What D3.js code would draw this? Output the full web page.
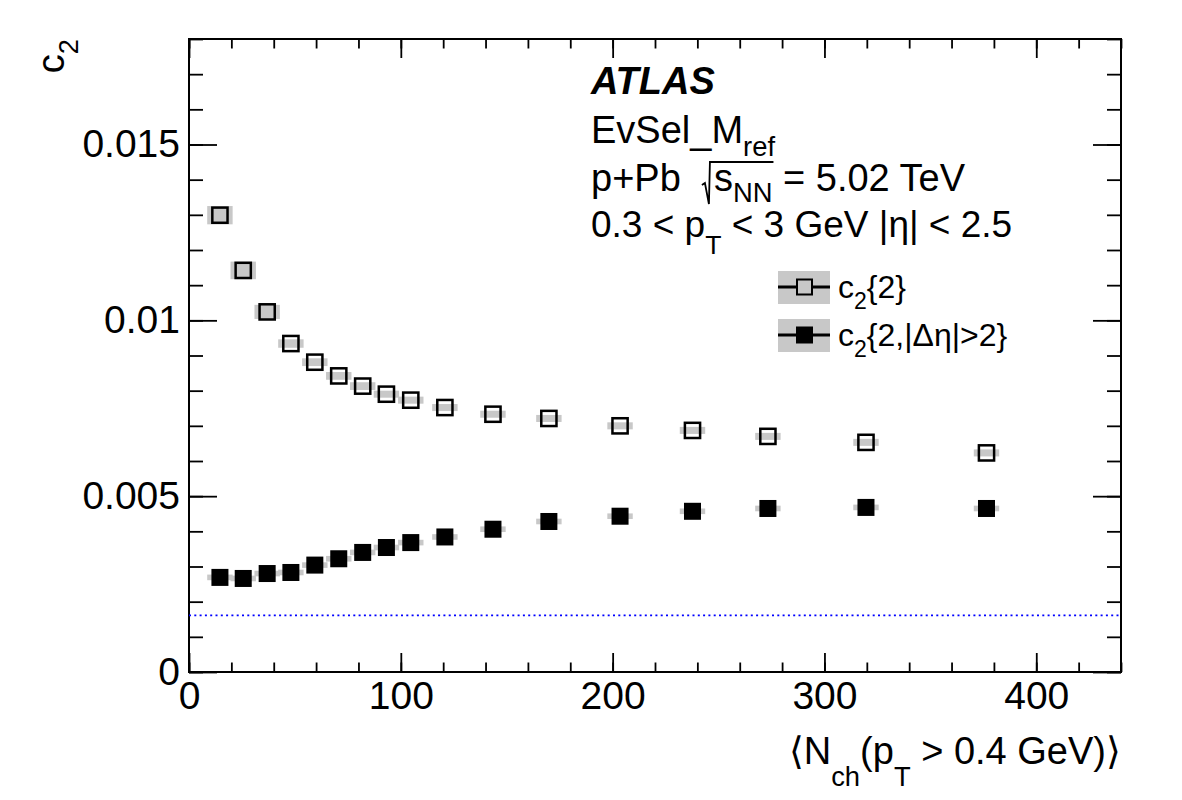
<!DOCTYPE html>
<html>
<head>
<meta charset="utf-8">
<script src="https://cdn.jsdelivr.net/npm/d3@7"></script>
<style>
  body { margin: 0; background: #fff; }
  text { font-family: "Liberation Sans", Arial, Helvetica, sans-serif; white-space: pre; }
</style>
</head>
<body>
<svg id="chart" width="1182" height="800"></svg>
<script>
// <Nch> bin centres
const nch = [14.6, 25.6, 36.9, 48.1, 59.4, 70.7, 82.0, 93.2, 104.7, 120.8, 143.5, 169.9, 203.5, 237.7, 273.3, 319.6, 376.5]
// c2{2}, open squares
const c2Two = [0.01299, 0.01142, 0.01024, 0.00934, 0.00881, 0.00842, 0.00813, 0.00790, 0.00773, 0.00752, 0.00733, 0.00721, 0.00700, 0.00687, 0.00670, 0.00653, 0.00623]
const c2TwoSys = [0.00026, 0.00025, 0.00020, 0.00012, 0.00011, 0.00011, 0.00011, 0.00010, 0.00010, 0.00010, 0.00010, 0.00010, 0.00010, 0.00010, 0.00010, 0.00010, 0.00010]
// c2{2,|deta|>2}, full squares
const c2Gap = [0.00269, 0.00266, 0.00280, 0.00283, 0.00304, 0.00322, 0.00340, 0.00354, 0.00368, 0.00384, 0.00406, 0.00428, 0.00443, 0.00457, 0.00465, 0.00468, 0.00465]
const c2GapSys = [0.00008, 0.00008, 0.00008, 0.00008, 0.00008, 0.00008, 0.00008, 0.00008, 0.00008, 0.00008, 0.00008, 0.00008, 0.00008, 0.00008, 0.00008, 0.00008, 0.00008]
const sysHalfWidth = 6
// reference level (blue dotted line)
const refLevel = 0.00161

const xMajor = [0, 100, 200, 300, 400]
const yMajor = [0, 0.005, 0.01, 0.015]

const svg = d3.select('#chart')
const padLeft = 189, padRight = 1121, padTop = 39, padBottom = 672
const grey = '#c8c8c8'

const x = d3.scaleLinear().domain([0, 440]).range([padLeft, padRight])
const y = d3.scaleLinear().domain([0, 0.018]).range([padBottom, padTop])

const xMinor = d3.range(0, 441, 20)
const yMinor = d3.range(0, 0.01801, 0.001)

// ticks on all four sides, pointing inwards
const tickStyle = g => {
  g.select('.domain').remove()
  g.selectAll('line').attr('stroke', '#000').attr('stroke-width', 1.8)
  g.selectAll('text').attr('font-size', 39).attr('fill', '#000')
    .attr('font-family', '"Liberation Sans", Arial, Helvetica, sans-serif')
}
const noLabel = () => ''
const yFormat = d => d === 0 ? '0' : String(+d.toFixed(3))

svg.append('g').attr('transform', `translate(0,${padBottom})`)
  .call(d3.axisBottom(x).tickValues(xMinor).tickSizeInner(-9.5).tickSizeOuter(0).tickFormat(noLabel)).call(tickStyle)
svg.append('g').attr('transform', `translate(0,${padBottom})`)
  .call(d3.axisBottom(x).tickValues(xMajor).tickSizeInner(-19).tickSizeOuter(0).tickPadding(9).tickFormat(d3.format('d'))).call(tickStyle)
svg.append('g').attr('transform', `translate(0,${padTop})`)
  .call(d3.axisTop(x).tickValues(xMinor).tickSizeInner(-9.5).tickSizeOuter(0).tickFormat(noLabel)).call(tickStyle)
svg.append('g').attr('transform', `translate(0,${padTop})`)
  .call(d3.axisTop(x).tickValues(xMajor).tickSizeInner(-19).tickSizeOuter(0).tickFormat(noLabel)).call(tickStyle)

svg.append('g').attr('transform', `translate(${padLeft},0)`)
  .call(d3.axisLeft(y).tickValues(yMinor).tickSizeInner(-14).tickSizeOuter(0).tickFormat(noLabel)).call(tickStyle)
svg.append('g').attr('transform', `translate(${padLeft},0)`)
  .call(d3.axisLeft(y).tickValues(yMajor).tickSizeInner(-28).tickSizeOuter(0).tickPadding(9).tickFormat(yFormat)).call(tickStyle)
svg.append('g').attr('transform', `translate(${padRight},0)`)
  .call(d3.axisRight(y).tickValues(yMinor).tickSizeInner(-14).tickSizeOuter(0).tickFormat(noLabel)).call(tickStyle)
svg.append('g').attr('transform', `translate(${padRight},0)`)
  .call(d3.axisRight(y).tickValues(yMajor).tickSizeInner(-28).tickSizeOuter(0).tickFormat(noLabel)).call(tickStyle)

// frame
svg.append('rect')
  .attr('x', padLeft).attr('y', padTop).attr('width', padRight - padLeft).attr('height', padBottom - padTop)
  .attr('fill', 'none').attr('stroke', '#000').attr('stroke-width', 2)

// reference level
svg.append('line')
  .attr('x1', padLeft).attr('x2', padRight).attr('y1', y(refLevel)).attr('y2', y(refLevel))
  .attr('stroke', '#0000ff').attr('stroke-width', 1.6).attr('stroke-dasharray', '2,3.3')

// systematic boxes
const drawSys = (vals, sys) => {
  svg.append('g').selectAll('rect').data(nch).join('rect')
    .attr('x', d => x(d - sysHalfWidth))
    .attr('width', d => x(d + sysHalfWidth) - x(d - sysHalfWidth))
    .attr('y', (d, i) => y(vals[i] + sys[i]))
    .attr('height', (d, i) => y(vals[i] - sys[i]) - y(vals[i] + sys[i]))
    .attr('fill', grey)
}
drawSys(c2Two, c2TwoSys)
drawSys(c2Gap, c2GapSys)

// markers
svg.append('g').selectAll('rect').data(nch).join('rect')
  .attr('x', d => x(d) - 7.6).attr('y', (d, i) => y(c2Two[i]) - 7.6)
  .attr('width', 15.2).attr('height', 15.2)
  .attr('fill', 'none').attr('stroke', '#000').attr('stroke-width', 2.5)
svg.append('g').selectAll('rect').data(nch).join('rect')
  .attr('x', d => x(d) - 8.5).attr('y', (d, i) => y(c2Gap[i]) - 8.5)
  .attr('width', 17).attr('height', 17)
  .attr('fill', '#000')

// text with subscripts: parts = [[string, isSub], ...]
function rich(xPos, yPos, size, parts, subShift, anchor) {
  const t = svg.append('text').attr('x', xPos).attr('y', yPos)
    .attr('font-size', size).attr('fill', '#000')
  if (anchor) t.attr('text-anchor', anchor)
  let shifted = 0
  const spans = parts.map(([str, sub]) => {
    const sp = t.append('tspan').text(str)
    if (sub) {
      sp.attr('font-size', size * 0.72).attr('dy', subShift - shifted)
      shifted = subShift
    } else if (shifted) {
      sp.attr('dy', -shifted)
      shifted = 0
    }
    return sp
  })
  return { t, spans }
}

// axis titles
rich(1121, 764, 38, [['\u27E8N', false], ['ch', true], ['(p', false], ['T', true], [' > 0.4 GeV)\u27E9', false]], 22, 'end')
const yTitle = rich(0, 0, 38, [['c', false], ['2', true]], 14, 'end')
yTitle.t.attr('transform', `translate(64,${padTop}) rotate(-90)`)

// ATLAS label block
svg.append('text').attr('x', 591).attr('y', 94).attr('font-size', 38)
  .attr('font-weight', 'bold').attr('font-style', 'italic').text('ATLAS')
rich(591, 143, 38, [['EvSel_M', false], ['ref', true]], 13)
const ppb = rich(591, 191, 38, [['p+Pb  ', false], ['s', false], ['NN', true], [' = 5.02 TeV', false]], 11)
rich(591, 237, 37, [['0.3 < p', false], ['T', true], [' < 3 GeV |\u03B7| < 2.5', false]], 17)

// radical over s_NN
{
  ppb.spans[1].attr('dx', 12)
  const sNode = ppb.spans[1].node(), nnNode = ppb.spans[2].node()
  const sx = sNode.getStartPositionOfChar(0).x
  const ex = nnNode.getEndPositionOfChar(1).x
  const topY = 162, baseY = 204
  svg.append('path')
    .attr('d', `M${sx - 12},${baseY - 19} L${sx - 9},${baseY - 21} L${sx - 5},${baseY} L${sx - 4},${topY} L${ex + 1},${topY}`)
    .attr('fill', 'none').attr('stroke', '#000').attr('stroke-width', 1.8)
}

// legend
const legendRows = [
  { y: 287, label: [['c', false], ['2', true], ['{2}', false]], open: true },
  { y: 335, label: [['c', false], ['2', true], ['{2,|\u0394\u03B7|>2}', false]], open: false }
]
legendRows.forEach(r => {
  svg.append('rect').attr('x', 778).attr('y', r.y - 16).attr('width', 52).attr('height', 33).attr('fill', grey)
  svg.append('line').attr('x1', 778).attr('x2', 830).attr('y1', r.y).attr('y2', r.y)
    .attr('stroke', '#000').attr('stroke-width', 3)
  if (r.open) {
    svg.append('rect').attr('x', 797).attr('y', r.y - 7.5).attr('width', 15).attr('height', 15)
      .attr('fill', grey).attr('stroke', '#000').attr('stroke-width', 2)
  } else {
    svg.append('rect').attr('x', 796).attr('y', r.y - 8.5).attr('width', 17).attr('height', 17).attr('fill', '#000')
  }
  rich(838, r.y + 11, 32, r.label, 11)
})
</script>
</body>
</html>
